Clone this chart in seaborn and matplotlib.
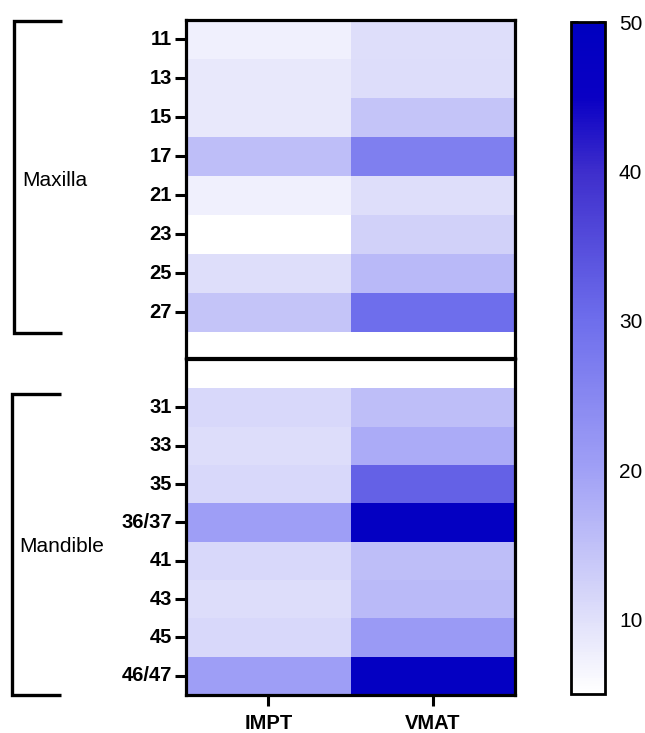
import numpy as np
import pandas as pd
import matplotlib
matplotlib.use("Agg")
import matplotlib.pyplot as plt
import seaborn as sns
from matplotlib.colors import LinearSegmentedColormap
from matplotlib.lines import Line2D

sns.set_theme(style="white")
plt.rcParams['font.family'] = ['Liberation Sans', 'DejaVu Sans']
plt.rcParams['text.color'] = 'black'
plt.rcParams['xtick.color'] = 'black'
plt.rcParams['ytick.color'] = 'black'
plt.rcParams['axes.labelcolor'] = 'black'

# ---- data ----
maxilla_teeth = ["11", "13", "15", "17", "21", "23", "25", "27"]
mandible_teeth = ["31", "33", "35", "36/37", "41", "43", "45", "46/47"]
techniques = ["IMPT", "VMAT"]
maxilla_impt = [7.5, 8.7, 8.7, 15.2, 7.5, 5.0, 10.3, 14.4]
maxilla_vmat = [10.3, 10.6, 14.4, 26.6, 10.3, 12.5, 16.2, 30.0]
mandible_impt = [11.2, 10.6, 11.2, 20.4, 11.2, 10.6, 11.2, 20.4]
mandible_vmat = [15.2, 18.3, 32.0, 48.0, 15.3, 15.9, 21.2, 48.0]
cbar_ticks = [10, 20, 30, 40, 50]
vmin, vmax = 5, 50

df_max = pd.DataFrame({techniques[0]: maxilla_impt, techniques[1]: maxilla_vmat}, index=maxilla_teeth)
df_man = pd.DataFrame({techniques[0]: mandible_impt, techniques[1]: mandible_vmat}, index=mandible_teeth)

cmap = LinearSegmentedColormap.from_list(
    "prism_blue",
    [(0.0, "#FFFFFF"), (5/45, "#E0E0FA"), (15/45, "#A0A0F6"), (25/45, "#6E6EEC"),
     (35/45, "#3E2ECC"), (40/45, "#0A00C4"), (1.0, "#0000C0")])

W, H = 645, 733
fig = plt.figure(figsize=(W/100, H/100), dpi=100)

def rect(x0, y0, x1, y1):
    return [x0/W, 1 - y1/H, (x1-x0)/W, (y1-y0)/H]

ax_top = fig.add_axes(rect(186, 20, 515, 358))
ax_bot = fig.add_axes(rect(186, 359, 515, 695))
cax = fig.add_axes(rect(571, 22, 605, 694))

sns.heatmap(df_max, ax=ax_top, cmap=cmap, vmin=vmin, vmax=vmax, cbar=True, cbar_ax=cax)
sns.heatmap(df_man, ax=ax_bot, cmap=cmap, vmin=vmin, vmax=vmax, cbar=False)

ax_top.set_ylim(8.67, 0)
ax_bot.set_ylim(8, -0.76)

for ax in (ax_top, ax_bot):
    for s in ax.spines.values():
        s.set_visible(True)
        s.set_linewidth(2.3)
        s.set_color("black")
    ax.set_xlabel("")
    ax.set_ylabel("")
    ax.tick_params(axis='y', left=True, length=8, width=2.2, color="black", pad=2,
                   labelsize=14.5, labelrotation=0, labelcolor="black")
    for t in ax.get_yticklabels():
        t.set_fontweight("bold")

ax_top.tick_params(axis='x', bottom=False, labelbottom=False)
ax_bot.tick_params(axis='x', bottom=True, length=8, width=2.2, color="black", pad=6,
                   labelsize=14.5, labelrotation=0, labelcolor="black")
for t in ax_bot.get_xticklabels():
    t.set_fontweight("bold")

cb = ax_top.collections[0].colorbar
cb.set_ticks(cbar_ticks)
cb.outline.set_linewidth(2)
cb.outline.set_edgecolor("black")
cax.tick_params(axis='y', direction='in', length=5, width=1.8, left=True, right=True,
                labelleft=False, labelright=True, labelsize=15, pad=10, color="black",
                labelcolor="black")

# brackets
def px_line(xs, ys):
    fig.add_artist(Line2D([x/W for x in xs], [1 - y/H for y in ys], transform=fig.transFigure,
                          color="black", lw=2.4, solid_capstyle="butt", solid_joinstyle="miter"))

px_line([62, 14, 14, 62], [21, 21, 333, 333])
px_line([61, 12, 12, 61], [394, 394, 695, 695])
fig.text(22/W, 1 - 180/H, "Maxilla", ha="left", va="center", fontsize=15)
fig.text(19/W, 1 - 546/H, "Mandible", ha="left", va="center", fontsize=15)

fig.savefig("out.png", dpi=100)
